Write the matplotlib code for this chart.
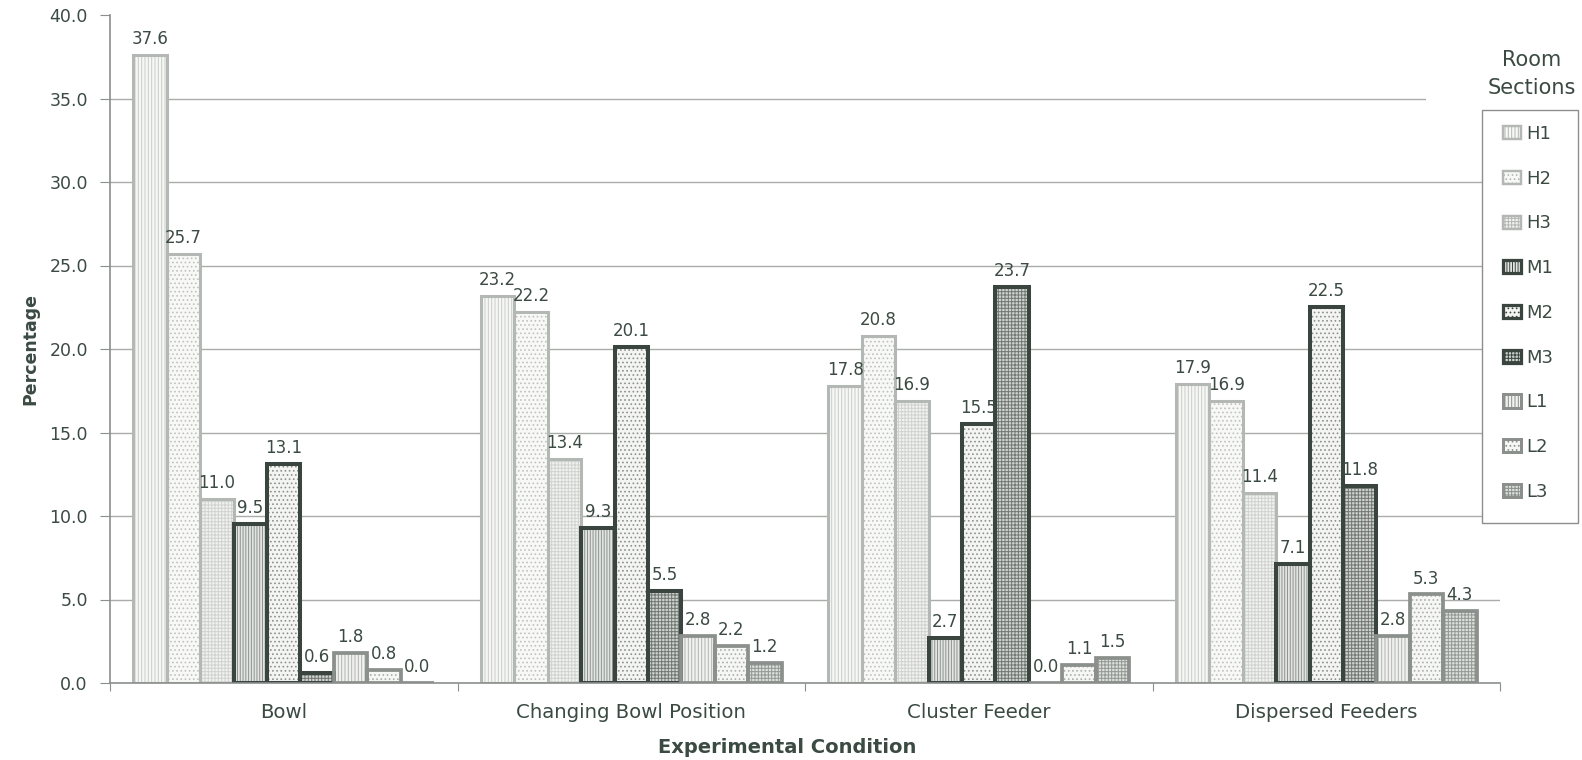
import numpy as np
import matplotlib
matplotlib.use("Agg")
import matplotlib.pyplot as plt
from matplotlib.patches import Patch, Rectangle

plt.rcParams["font.family"] = ["DejaVu Sans"]
plt.rcParams["hatch.linewidth"] = 0.7

TEXT = "#3b4a42"
AXIS = "#8a8f8c"
W, H = 1582, 760

conditions = ["Bowl", "Changing Bowl Position", "Cluster Feeder", "Dispersed Feeders"]
sections = ["H1", "H2", "H3", "M1", "M2", "M3", "L1", "L2", "L3"]

# percentage per room section, one list per section (order follows conditions)
h1 = [37.6, 23.2, 17.8, 17.9]
h2 = [25.7, 22.2, 20.8, 16.9]
h3 = [11.0, 13.4, 16.9, 11.4]
m1 = [9.5, 9.3, 2.7, 7.1]
m2 = [13.1, 20.1, 15.5, 22.5]
m3 = [0.6, 5.5, 23.7, 11.8]
l1 = [1.8, 2.8, 0.0, 2.8]
l2 = [0.8, 2.2, 1.1, 5.3]
l3 = [0.0, 1.2, 1.5, 4.3]
series = [h1, h2, h3, m1, m2, m3, l1, l2, l3]

# (face, hatch, hatch colour, edge colour, edge width)
styles = [
    ("#f7f7f5", "|||||", "#c9ccc9", "#b4b8b5", 2.2),
    ("#f8f8f6", "....", "#bfc3c0", "#b4b8b5", 2.2),
    ("#f2f2f0", "+++++", "#d0d3d0", "#b4b8b5", 2.2),
    ("#e3e5e3", "||||||", "#8c928e", "#3a4540", 2.9),
    ("#f4f4f2", "....", "#8c928e", "#3a4540", 2.9),
    ("#cfd2cf", "+++++", "#717873", "#3a4540", 2.9),
    ("#f1f1ef", "|||||", "#b0b4b1", "#8b908d", 2.7),
    ("#f6f6f4", "....", "#aab0ac", "#8b908d", 2.7),
    ("#dcdfdc", "+++++", "#949995", "#8b908d", 2.7),
]

fig = plt.figure(figsize=(W / 100, H / 100), dpi=100)
ax = fig.add_axes([110 / W, 1 - 683 / H, 1390 / W, 668 / H])

x = np.arange(len(conditions)) + 0.5
w = 0.0961
for j, (vals, st) in enumerate(zip(series, styles)):
    face, hatch, hcol, ecol, lw = st
    pos = x + (j - 4) * w
    ax.bar(pos, vals, w, color=face, hatch=hatch, edgecolor=hcol, linewidth=0, zorder=3)
    ax.bar(pos, vals, w, fill=False, edgecolor=ecol, linewidth=lw, zorder=4)
    for px, v in zip(pos, vals):
        ax.annotate(f"{v:.1f}", (px, v), xytext=(0, 5), textcoords="offset points",
                    ha="center", va="bottom", fontsize=12, color=TEXT, zorder=5)

ax.set_xlim(0, 4)
ax.set_ylim(0, 40)
yt = np.arange(0, 40.1, 5)
ax.set_yticks(yt)
ax.set_yticklabels([f"{v:.1f}" for v in yt])
ax.tick_params(axis="y", direction="out", length=7, color=AXIS, labelsize=12.5,
               labelcolor=TEXT, pad=9)

ax.set_xticks(np.arange(0, 5))
ax.set_xticklabels([])
ax.set_xticks(x, minor=True)
ax.set_xticklabels(conditions, minor=True)
ax.tick_params(axis="x", which="major", direction="out", length=6, color=AXIS)
ax.tick_params(axis="x", which="minor", length=0, labelsize=14.2, labelcolor=TEXT, pad=14.5)

for yv in yt[1:-1]:
    ax.axhline(yv, color="#a9adaa", lw=1, zorder=1)

for side in ["top", "right"]:
    ax.spines[side].set_visible(False)
for side in ["left", "bottom"]:
    ax.spines[side].set_color(AXIS)
    ax.spines[side].set_linewidth(1.2)
ax.spines["bottom"].set_zorder(6)

ax.set_ylabel("Percentage", fontsize=12.5, fontweight="bold", color=TEXT, labelpad=7)
ax.set_xlabel("Experimental Condition", fontsize=14, fontweight="bold", color=TEXT,
              labelpad=10)
ax.xaxis.set_label_coords(0.487, -0.083)

# legend: plain box on the right, title sits above it
fig.patches.append(Rectangle((1426 / W, 1 - 110 / H), 156 / W, 80 / H,
                             transform=fig.transFigure, facecolor="white",
                             edgecolor="none", zorder=9))
fig.patches.append(Rectangle((1482 / W, 1 - 523 / H), 96 / W, 413 / H,
                             transform=fig.transFigure, facecolor="white",
                             edgecolor=AXIS, linewidth=1.0, zorder=10))
fig.text(1532 / W, 1 - 74 / H, "Room\nSections", ha="center", va="center",
         fontsize=15, color=TEXT, linespacing=1.5, zorder=11)

handles = [Patch(facecolor=st[0], hatch=st[1], edgecolor=st[3], linewidth=st[4] * 0.8)
           for st in styles]
leg = fig.legend(handles, sections, loc="upper left",
                 bbox_to_anchor=(1503 / W, 1 - 125 / H), frameon=False,
                 fontsize=13, handlelength=1.0, handleheight=0.75, handletextpad=0.3,
                 labelspacing=1.48, borderaxespad=0, borderpad=0)
leg.set_zorder(12)
for t in leg.get_texts():
    t.set_color(TEXT)

fig.savefig("out.png", dpi=100, facecolor="white")
